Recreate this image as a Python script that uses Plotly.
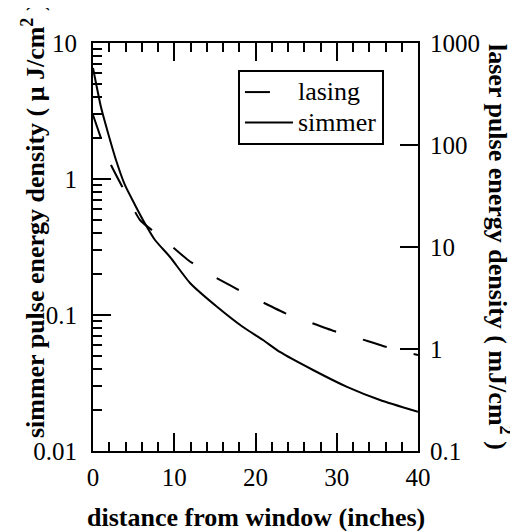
import plotly.graph_objects as go

# distance from window (inches) and energy densities
distance_simmer = [0, 0.98, 1.85, 2.83, 3.94, 5.17, 6.15, 7.63, 9.48, 11.94,
                   15.26, 18.46, 20.92, 23.0, 27.08, 31.26, 35.32, 40]
simmer = [6.55, 3.38, 2.18, 1.38, 0.90, 0.644, 0.50, 0.356, 0.267, 0.172,
          0.115, 0.0816, 0.0655, 0.0535, 0.0394, 0.0296, 0.0237, 0.0194]

distance_lasing = [0, 0.98, 2.22, 3.69, 5.78, 8.37, 11.69, 14.52, 17.72,
                   20.55, 23.63, 26.58, 29.66, 32.62, 35.69, 40]
lasing = [197, 117, 63.7, 37.8, 18.4, 12.5, 7.46, 5.31, 3.87, 2.96, 2.25,
          1.84, 1.50, 1.28, 1.07, 0.873]

x_ticks = [0, 10, 20, 30, 40]
left_ticks = [0.01, 0.1, 1, 10]
left_labels = ["0.01", "0.1", "1", "10"]
right_ticks = [0.1, 1, 10, 100, 1000]
right_labels = ["0.1", "1", "10", "100", "1000"]

FONT = "Liberation Serif"

left_minor = [m * 10 ** e for e in (-2, -1, 0) for m in range(2, 10)]

fig = go.Figure()
fig.add_trace(go.Scatter(
    x=distance_lasing, y=lasing,
    name='<span style="font-size:26px">lasing\u00a0\u00a0</span>',
    mode="lines", yaxis="y2",
    line=dict(color="black", width=2, dash="25px,28px", shape="spline", smoothing=0.5),
))
fig.add_trace(go.Scatter(
    x=distance_simmer, y=simmer,
    name='<span style="font-size:26px">simmer</span>',
    mode="lines", yaxis="y",
    line=dict(color="black", width=2, shape="spline", smoothing=0.5),
))

# the page body has an 8px margin, so the figure is drawn 8px in from the corner
fig.update_layout(
    width=510, height=523,
    margin=dict(l=85, r=100, t=35, b=80),
    plot_bgcolor="white", paper_bgcolor="white",
    font=dict(family=FONT, size=25, color="black"),
    showlegend=True,
    legend=dict(
        x=0.446, y=0.934, xanchor="left", yanchor="top",
        bgcolor="white", bordercolor="black", borderwidth=2,
        font=dict(family=FONT, size=21, color="black"),
        tracegroupgap=0, itemwidth=48,
    ),
    xaxis=dict(
        range=[0, 40], tickvals=x_ticks, ticks="inside", ticklen=18, tickwidth=2,
        tickcolor="black", showline=True, linecolor="black", linewidth=2,
        mirror="ticks", showgrid=False, zeroline=False,
        ticklabelstandoff=3, tickfont=dict(family=FONT, size=25, color="black"),
        minor=dict(dtick=2, ticks="inside", ticklen=9, tickwidth=2, tickcolor="black", showgrid=False),
    ),
    yaxis=dict(
        type="log", range=[-2, 1], tickvals=left_ticks, ticktext=left_labels,
        ticks="inside", ticklen=18, tickwidth=2, tickcolor="black",
        showline=True, linecolor="black", linewidth=2, mirror=False,
        showgrid=False, zeroline=False, ticklabelstandoff=9,
        tickfont=dict(family=FONT, size=25, color="black"),
        minor=dict(tickvals=left_minor, ticks="inside", ticklen=9, tickwidth=2,
                   tickcolor="black", showgrid=False),
    ),
    yaxis2=dict(
        type="log", range=[-1, 3], tickvals=right_ticks, ticktext=right_labels,
        overlaying="y", side="right", ticks="inside", ticklen=18, tickwidth=2,
        tickcolor="black", showline=True, linecolor="black", linewidth=2,
        showgrid=False, zeroline=False, ticklabelstandoff=5,
        tickfont=dict(family=FONT, size=25, color="black"),
    ),
    annotations=[
        dict(text="simmer pulse energy density ( \u03bc J/cm<sup>2</sup> )",
             xref="paper", yref="paper", x=-0.1846, y=0.566, textangle=-90,
             xanchor="center", yanchor="middle", showarrow=False,
             font=dict(family=FONT, size=26, color="black", weight="bold")),
        dict(text="laser pulse energy density ( mJ/cm<sup>2</sup> )",
             xref="paper", yref="paper", x=1.2523, y=0.5, textangle=90,
             xanchor="center", yanchor="middle", showarrow=False,
             font=dict(family=FONT, size=26, color="black", weight="bold")),
        dict(text="distance from window (inches)",
             xref="paper", yref="paper", x=0.5, y=-0.164,
             xanchor="center", yanchor="middle", showarrow=False,
             font=dict(family=FONT, size=26, color="black", weight="bold")),
    ],
)

fig.write_html("out.html")
